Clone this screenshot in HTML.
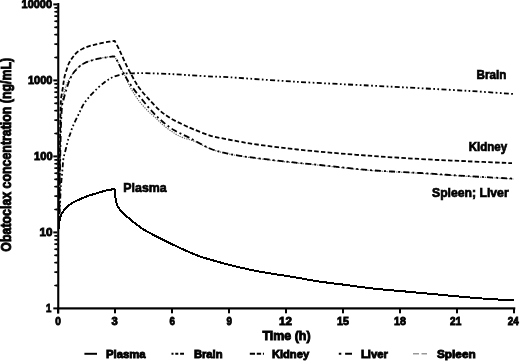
<!DOCTYPE html>
<html><head><meta charset="utf-8"><style>
html,body{margin:0;padding:0;background:#fff;width:520px;height:361px;overflow:hidden}
svg{display:block;filter:grayscale(1)}
text{font-family:"Liberation Sans",sans-serif;font-weight:bold;fill:#000}
</style></head><body>
<svg width="520" height="361" viewBox="0 0 520 361">
<g fill="none" stroke-linejoin="round" stroke-linecap="butt">
<path d="M59.30,212.00 C59.38,205.00 59.58,184.50 59.80,170.00 C60.02,155.50 60.32,135.83 60.60,125.00 C60.88,114.17 61.13,109.50 61.50,105.00 C61.87,100.50 62.25,100.50 62.80,98.00 C63.35,95.50 64.10,92.47 64.80,90.00 C65.50,87.53 65.82,85.70 67.00,83.20 C68.18,80.70 70.40,77.28 71.90,75.00 C73.40,72.72 74.52,71.12 76.00,69.50 C77.48,67.88 78.85,66.60 80.80,65.30 C82.75,64.00 85.40,62.65 87.70,61.70 C90.00,60.75 92.28,60.22 94.60,59.60 C96.92,58.98 99.28,58.45 101.60,58.00 C103.92,57.55 106.43,57.23 108.50,56.90 C110.57,56.57 113.08,56.15 114.00,56.00 L114.00,56.00 C114.58,56.88 116.35,59.27 117.50,61.30 C118.65,63.33 119.75,66.00 120.90,68.20 C122.05,70.40 123.05,71.70 124.40,74.50 C125.75,77.30 127.25,81.60 129.00,85.00 C130.75,88.40 133.03,91.98 134.90,94.90 C136.77,97.82 138.03,99.83 140.20,102.50 C142.37,105.17 145.35,108.35 147.90,110.90 C150.45,113.45 152.72,115.25 155.50,117.80 C158.28,120.35 161.30,123.53 164.60,126.20 C167.90,128.87 172.25,131.90 175.30,133.80 C178.35,135.70 179.62,136.32 182.90,137.60 C186.18,138.88 190.48,139.63 195.00,141.50 C199.52,143.37 204.72,146.78 210.00,148.80 C215.28,150.82 221.70,152.40 226.70,153.60 C231.70,154.80 235.57,155.27 240.00,156.00 C244.43,156.73 245.52,157.00 253.30,158.00 C261.08,159.00 275.58,160.78 286.70,162.00 C297.82,163.22 306.40,163.92 320.00,165.30 C333.60,166.68 351.63,168.97 368.30,170.30 C384.97,171.63 403.72,172.30 420.00,173.30 C436.28,174.30 450.33,175.35 466.00,176.30 C481.67,177.25 506.00,178.55 514.00,179.00" stroke="#666" stroke-width="1.2" stroke-dasharray="1.2 1.2"/>
<path d="M59.30,212.00 C59.42,205.00 59.72,184.50 60.00,170.00 C60.28,155.50 60.63,135.83 61.00,125.00 C61.37,114.17 61.77,109.25 62.20,105.00 C62.63,100.75 63.00,101.75 63.60,99.50 C64.20,97.25 64.98,94.25 65.80,91.50 C66.62,88.75 67.51,85.62 68.50,83.00 C69.49,80.38 70.75,77.72 71.75,75.80 C72.75,73.88 73.12,73.13 74.50,71.50 C75.88,69.87 78.37,67.38 80.00,66.00 C81.63,64.62 82.47,64.08 84.30,63.20 C86.13,62.32 88.63,61.47 91.00,60.70 C93.37,59.93 95.87,59.17 98.50,58.60 C101.13,58.03 104.18,57.68 106.80,57.30 C109.42,56.92 112.97,56.47 114.20,56.30 L114.20,56.30 C114.75,57.13 116.38,59.32 117.50,61.30 C118.62,63.28 119.75,66.00 120.90,68.20 C122.05,70.40 123.23,72.42 124.40,74.50 C125.57,76.58 126.28,78.18 127.90,80.70 C129.52,83.22 132.05,86.85 134.10,89.60 C136.15,92.35 137.40,93.77 140.20,97.20 C143.00,100.63 147.33,106.27 150.90,110.20 C154.47,114.13 157.78,117.50 161.60,120.80 C165.42,124.10 169.23,127.20 173.80,130.00 C178.37,132.80 182.97,134.52 189.00,137.60 C195.03,140.68 203.72,145.88 210.00,148.50 C216.28,151.12 221.70,152.08 226.70,153.30 C231.70,154.52 235.57,155.07 240.00,155.80 C244.43,156.53 245.52,156.72 253.30,157.70 C261.08,158.68 275.58,160.48 286.70,161.70 C297.82,162.92 306.40,163.62 320.00,165.00 C333.60,166.38 351.63,168.67 368.30,170.00 C384.97,171.33 403.72,172.00 420.00,173.00 C436.28,174.00 450.33,175.05 466.00,176.00 C481.67,176.95 506.00,178.25 514.00,178.70" stroke="#000" stroke-width="1.8" stroke-dasharray="6 3 2 3"/>
<path d="M59.30,212.00 C59.38,203.33 59.62,176.17 59.80,160.00 C59.98,143.83 60.22,125.00 60.40,115.00 C60.58,105.00 60.67,103.50 60.90,100.00 C61.13,96.50 61.48,96.00 61.80,94.00 C62.12,92.00 62.52,89.83 62.80,88.00 C63.08,86.17 63.20,84.92 63.50,83.00 C63.80,81.08 64.07,78.75 64.60,76.50 C65.13,74.25 66.00,71.67 66.70,69.50 C67.40,67.33 68.00,65.25 68.80,63.50 C69.60,61.75 70.72,60.20 71.50,59.00 C72.28,57.80 72.62,57.38 73.50,56.30 C74.38,55.22 75.27,53.77 76.80,52.50 C78.33,51.23 80.62,49.77 82.70,48.70 C84.78,47.63 87.08,46.82 89.30,46.10 C91.52,45.38 93.77,44.95 96.00,44.40 C98.23,43.85 100.48,43.25 102.70,42.80 C104.92,42.35 107.32,42.03 109.30,41.70 C111.28,41.37 113.72,40.95 114.60,40.80 L114.60,40.80 C115.32,42.15 117.50,46.05 118.90,48.90 C120.30,51.75 121.62,54.90 123.00,57.90 C124.38,60.90 125.82,64.13 127.20,66.90 C128.58,69.67 129.92,71.97 131.30,74.50 C132.68,77.03 134.13,79.80 135.50,82.10 C136.87,84.40 137.43,85.62 139.50,88.30 C141.57,90.98 144.48,94.48 147.90,98.20 C151.32,101.92 156.20,107.25 160.00,110.60 C163.80,113.95 166.88,115.97 170.70,118.30 C174.52,120.63 179.08,122.77 182.90,124.60 C186.72,126.43 189.08,127.47 193.60,129.30 C198.12,131.13 204.48,133.95 210.00,135.60 C215.52,137.25 221.70,138.18 226.70,139.20 C231.70,140.22 235.57,140.90 240.00,141.70 C244.43,142.50 245.52,142.90 253.30,144.00 C261.08,145.10 275.58,147.02 286.70,148.30 C297.82,149.58 306.40,150.47 320.00,151.70 C333.60,152.93 351.63,154.48 368.30,155.70 C384.97,156.92 403.72,158.08 420.00,159.00 C436.28,159.92 450.67,160.50 466.00,161.20 C481.33,161.90 504.33,162.87 512.00,163.20" stroke="#000" stroke-width="1.8" stroke-dasharray="4.5 2.2"/>
<path d="M59.50,214.00 C59.58,212.50 59.82,209.00 60.00,205.00 C60.18,201.00 60.43,193.33 60.60,190.00 C60.77,186.67 60.80,187.22 61.00,185.00 C61.20,182.78 61.52,179.75 61.80,176.70 C62.08,173.65 62.42,169.77 62.70,166.70 C62.98,163.63 62.95,161.37 63.50,158.30 C64.05,155.23 65.17,151.63 66.00,148.30 C66.83,144.97 67.83,140.60 68.50,138.30 C69.17,136.00 69.37,136.27 70.00,134.50 C70.63,132.73 71.35,130.08 72.30,127.70 C73.25,125.32 74.45,122.85 75.70,120.20 C76.95,117.55 78.42,114.58 79.80,111.80 C81.18,109.02 82.18,106.27 84.00,103.50 C85.82,100.73 88.48,97.70 90.70,95.20 C92.92,92.70 95.08,90.58 97.30,88.50 C99.52,86.42 102.05,84.23 104.00,82.70 C105.95,81.17 107.33,80.32 109.00,79.30 C110.67,78.28 112.13,77.35 114.00,76.60 C115.87,75.85 118.17,75.33 120.20,74.80 C122.23,74.27 124.12,73.65 126.20,73.40 C128.28,73.15 129.63,73.33 132.70,73.30 C135.77,73.27 138.77,73.10 144.60,73.20 C150.43,73.30 160.00,73.55 167.70,73.90 C175.40,74.25 183.10,74.85 190.80,75.30 C198.50,75.75 207.37,76.27 213.90,76.60 C220.43,76.93 216.48,76.45 230.00,77.30 C243.52,78.15 271.95,80.33 295.00,81.70 C318.05,83.07 347.47,84.42 368.30,85.50 C389.13,86.58 403.05,87.28 420.00,88.20 C436.95,89.12 454.33,90.03 470.00,91.00 C485.67,91.97 506.67,93.50 514.00,94.00" stroke="#000" stroke-width="1.8" stroke-dasharray="5 2.4 1.7 2.4 1.7 2.4"/>
<path d="M58.90,229.00 C58.98,227.75 59.13,223.58 59.40,221.50 C59.67,219.42 59.98,218.00 60.50,216.50 C61.02,215.00 61.47,214.00 62.50,212.50 C63.53,211.00 65.17,209.03 66.70,207.50 C68.23,205.97 69.48,204.68 71.70,203.30 C73.92,201.92 77.23,200.45 80.00,199.20 C82.77,197.95 85.52,196.78 88.30,195.80 C91.08,194.82 93.92,194.13 96.70,193.30 C99.48,192.47 102.07,191.52 105.00,190.80 C107.93,190.08 112.75,189.30 114.30,189.00 L114.90,189.30 C114.98,190.58 115.12,194.72 115.40,197.00 C115.68,199.28 116.12,201.28 116.60,203.00 C117.08,204.72 117.18,205.60 118.30,207.30 C119.42,209.00 121.07,210.98 123.30,213.20 C125.53,215.42 128.37,217.92 131.70,220.60 C135.03,223.28 138.27,226.20 143.30,229.30 C148.33,232.40 155.92,236.15 161.90,239.20 C167.88,242.25 173.43,244.93 179.20,247.60 C184.97,250.27 190.73,253.03 196.50,255.20 C202.27,257.37 208.03,258.92 213.80,260.60 C219.57,262.28 225.33,263.85 231.10,265.30 C236.87,266.75 242.63,268.07 248.40,269.30 C254.17,270.53 258.77,271.50 265.70,272.70 C272.63,273.90 281.07,275.03 290.00,276.50 C298.93,277.97 310.57,280.17 319.30,281.50 C328.03,282.83 333.17,283.30 342.40,284.50 C351.63,285.70 365.10,287.62 374.70,288.70 C384.30,289.78 390.02,290.08 400.00,291.00 C409.98,291.92 424.60,293.27 434.60,294.20 C444.60,295.13 450.95,295.80 460.00,296.60 C469.05,297.40 479.90,298.38 488.90,299.00 C497.90,299.62 509.82,300.08 514.00,300.30" stroke="#000" stroke-width="2.0" shape-rendering="crispEdges"/>
</g>
<rect x="57.2" y="3" width="2.1" height="310.5" fill="#000"/>
<rect x="57" y="307.3" width="458.3" height="2.2" fill="#000"/>
<rect x="53.3" y="307.40" width="4" height="2" fill="#000"/>
<path d="M54.2,284.92 L57.5,284.32 L57.5,286.72 L54.2,286.12 Z" fill="#000"/>
<path d="M54.2,271.54 L57.5,270.94 L57.5,273.34 L54.2,272.74 Z" fill="#000"/>
<path d="M54.2,262.04 L57.5,261.44 L57.5,263.84 L54.2,263.24 Z" fill="#000"/>
<path d="M54.2,254.68 L57.5,254.08 L57.5,256.48 L54.2,255.88 Z" fill="#000"/>
<path d="M54.2,248.66 L57.5,248.06 L57.5,250.46 L54.2,249.86 Z" fill="#000"/>
<path d="M54.2,243.57 L57.5,242.97 L57.5,245.37 L54.2,244.77 Z" fill="#000"/>
<path d="M54.2,239.17 L57.5,238.57 L57.5,240.97 L54.2,240.37 Z" fill="#000"/>
<path d="M54.2,235.28 L57.5,234.68 L57.5,237.08 L54.2,236.48 Z" fill="#000"/>
<rect x="53.3" y="231.40" width="4" height="2" fill="#000"/>
<path d="M54.2,208.92 L57.5,208.32 L57.5,210.72 L54.2,210.12 Z" fill="#000"/>
<path d="M54.2,195.54 L57.5,194.94 L57.5,197.34 L54.2,196.74 Z" fill="#000"/>
<path d="M54.2,186.04 L57.5,185.44 L57.5,187.84 L54.2,187.24 Z" fill="#000"/>
<path d="M54.2,178.68 L57.5,178.08 L57.5,180.48 L54.2,179.88 Z" fill="#000"/>
<path d="M54.2,172.66 L57.5,172.06 L57.5,174.46 L54.2,173.86 Z" fill="#000"/>
<path d="M54.2,167.57 L57.5,166.97 L57.5,169.37 L54.2,168.77 Z" fill="#000"/>
<path d="M54.2,163.17 L57.5,162.57 L57.5,164.97 L54.2,164.37 Z" fill="#000"/>
<path d="M54.2,159.28 L57.5,158.68 L57.5,161.08 L54.2,160.48 Z" fill="#000"/>
<rect x="53.3" y="155.40" width="4" height="2" fill="#000"/>
<path d="M54.2,132.92 L57.5,132.32 L57.5,134.72 L54.2,134.12 Z" fill="#000"/>
<path d="M54.2,119.54 L57.5,118.94 L57.5,121.34 L54.2,120.74 Z" fill="#000"/>
<path d="M54.2,110.04 L57.5,109.44 L57.5,111.84 L54.2,111.24 Z" fill="#000"/>
<path d="M54.2,102.68 L57.5,102.08 L57.5,104.48 L54.2,103.88 Z" fill="#000"/>
<path d="M54.2,96.66 L57.5,96.06 L57.5,98.46 L54.2,97.86 Z" fill="#000"/>
<path d="M54.2,91.57 L57.5,90.97 L57.5,93.37 L54.2,92.77 Z" fill="#000"/>
<path d="M54.2,87.17 L57.5,86.57 L57.5,88.97 L54.2,88.37 Z" fill="#000"/>
<path d="M54.2,83.28 L57.5,82.68 L57.5,85.08 L54.2,84.48 Z" fill="#000"/>
<rect x="53.3" y="79.40" width="4" height="2" fill="#000"/>
<path d="M54.2,56.92 L57.5,56.32 L57.5,58.72 L54.2,58.12 Z" fill="#000"/>
<path d="M54.2,43.54 L57.5,42.94 L57.5,45.34 L54.2,44.74 Z" fill="#000"/>
<path d="M54.2,34.04 L57.5,33.44 L57.5,35.84 L54.2,35.24 Z" fill="#000"/>
<path d="M54.2,26.68 L57.5,26.08 L57.5,28.48 L54.2,27.88 Z" fill="#000"/>
<path d="M54.2,20.66 L57.5,20.06 L57.5,22.46 L54.2,21.86 Z" fill="#000"/>
<path d="M54.2,15.57 L57.5,14.97 L57.5,17.37 L54.2,16.77 Z" fill="#000"/>
<path d="M54.2,11.17 L57.5,10.57 L57.5,12.97 L54.2,12.37 Z" fill="#000"/>
<path d="M54.2,7.28 L57.5,6.68 L57.5,9.08 L54.2,8.48 Z" fill="#000"/>
<rect x="53.3" y="3.40" width="4" height="2" fill="#000"/>
<rect x="57.00" y="308" width="2" height="5.3" fill="#000"/>
<rect x="114.00" y="308" width="2" height="5.3" fill="#000"/>
<rect x="171.00" y="308" width="2" height="5.3" fill="#000"/>
<rect x="228.00" y="308" width="2" height="5.3" fill="#000"/>
<rect x="285.00" y="308" width="2" height="5.3" fill="#000"/>
<rect x="342.00" y="308" width="2" height="5.3" fill="#000"/>
<rect x="399.00" y="308" width="2" height="5.3" fill="#000"/>
<rect x="456.00" y="308" width="2" height="5.3" fill="#000"/>
<rect x="513.00" y="308" width="2" height="5.3" fill="#000"/>
<text x="45.94" y="312.45" font-size="11.60" textLength="5.38" lengthAdjust="spacingAndGlyphs" stroke="#000" stroke-width="0.90">1</text>
<text x="39.41" y="236.45" font-size="11.60" textLength="13.02" lengthAdjust="spacingAndGlyphs" stroke="#000" stroke-width="0.90">10</text>
<text x="34.05" y="160.45" font-size="11.60" textLength="18.56" lengthAdjust="spacingAndGlyphs" stroke="#000" stroke-width="0.90">100</text>
<text x="27.96" y="84.45" font-size="11.60" textLength="24.44" lengthAdjust="spacingAndGlyphs" stroke="#000" stroke-width="0.90">1000</text>
<text x="21.56" y="8.45" font-size="11.60" textLength="30.44" lengthAdjust="spacingAndGlyphs" stroke="#000" stroke-width="0.90">10000</text>
<text x="55.15" y="324.80" font-size="11.60" textLength="5.61" lengthAdjust="spacingAndGlyphs" stroke="#000" stroke-width="0.90">0</text>
<text x="111.49" y="324.80" font-size="11.60" textLength="6.27" lengthAdjust="spacingAndGlyphs" stroke="#000" stroke-width="0.90">3</text>
<text x="169.39" y="324.80" font-size="11.60" textLength="5.42" lengthAdjust="spacingAndGlyphs" stroke="#000" stroke-width="0.90">6</text>
<text x="226.40" y="324.80" font-size="11.60" textLength="5.42" lengthAdjust="spacingAndGlyphs" stroke="#000" stroke-width="0.90">9</text>
<text x="279.12" y="324.80" font-size="11.60" textLength="12.89" lengthAdjust="spacingAndGlyphs" stroke="#000" stroke-width="0.90">12</text>
<text x="336.95" y="324.80" font-size="11.60" textLength="11.92" lengthAdjust="spacingAndGlyphs" stroke="#000" stroke-width="0.90">15</text>
<text x="393.97" y="324.80" font-size="11.60" textLength="11.92" lengthAdjust="spacingAndGlyphs" stroke="#000" stroke-width="0.90">18</text>
<text x="450.10" y="324.80" font-size="11.60" textLength="11.23" lengthAdjust="spacingAndGlyphs" stroke="#000" stroke-width="0.90">21</text>
<text x="507.81" y="324.80" font-size="11.60" textLength="11.00" lengthAdjust="spacingAndGlyphs" stroke="#000" stroke-width="0.90">24</text>
<text x="262.51" y="339.90" font-size="12.40" textLength="48.05" lengthAdjust="spacingAndGlyphs" stroke="#000" stroke-width="0.90">Time (h)</text>
<g transform="translate(10.9,0) rotate(-90)"><text x="-251.66" y="0.00" font-size="15.20" textLength="193.82" lengthAdjust="spacingAndGlyphs" stroke="#000" stroke-width="0.90">Obatoclax concentration (ng/mL)</text></g>
<text x="123.32" y="191.90" font-size="13.00" textLength="43.35" lengthAdjust="spacingAndGlyphs" stroke="#000" stroke-width="0.70">Plasma</text>
<text x="476.47" y="78.70" font-size="12.40" textLength="29.80" lengthAdjust="spacingAndGlyphs" stroke="#000" stroke-width="0.70">Brain</text>
<text x="468.68" y="150.90" font-size="12.20" textLength="38.43" lengthAdjust="spacingAndGlyphs" stroke="#000" stroke-width="0.70">Kidney</text>
<text x="432.00" y="196.70" font-size="12.30" textLength="76.64" lengthAdjust="spacingAndGlyphs" stroke="#000" stroke-width="0.70">Spleen; Liver</text>
<line x1="84.4" y1="353.8" x2="97" y2="353.8" stroke="#000" stroke-width="2"/>
<line x1="171.5" y1="353.8" x2="184" y2="353.8" stroke="#000" stroke-width="2" stroke-dasharray="2 1.8 3 1.8 5"/>
<line x1="249.8" y1="353.8" x2="264" y2="353.8" stroke="#000" stroke-width="2" stroke-dasharray="5.2 1.8 4.3 1.8"/>
<line x1="338.8" y1="353.8" x2="352" y2="353.8" stroke="#000" stroke-width="2" stroke-dasharray="2.5 3.8 7"/>
<line x1="413" y1="353.8" x2="427" y2="353.8" stroke="#999" stroke-width="1.6" stroke-dasharray="6 2.5"/>
<text x="105.94" y="357.50" font-size="11.50" textLength="39.74" lengthAdjust="spacingAndGlyphs" stroke="#000" stroke-width="0.90">Plasma</text>
<text x="193.90" y="357.50" font-size="11.50" textLength="28.64" lengthAdjust="spacingAndGlyphs" stroke="#000" stroke-width="0.90">Brain</text>
<text x="271.90" y="357.50" font-size="11.50" textLength="37.21" lengthAdjust="spacingAndGlyphs" stroke="#000" stroke-width="0.90">Kidney</text>
<text x="360.89" y="357.50" font-size="11.50" textLength="27.03" lengthAdjust="spacingAndGlyphs" stroke="#000" stroke-width="0.90">Liver</text>
<text x="437.01" y="357.50" font-size="11.50" textLength="38.67" lengthAdjust="spacingAndGlyphs" stroke="#000" stroke-width="0.90">Spleen</text>
</svg>
</body></html>
